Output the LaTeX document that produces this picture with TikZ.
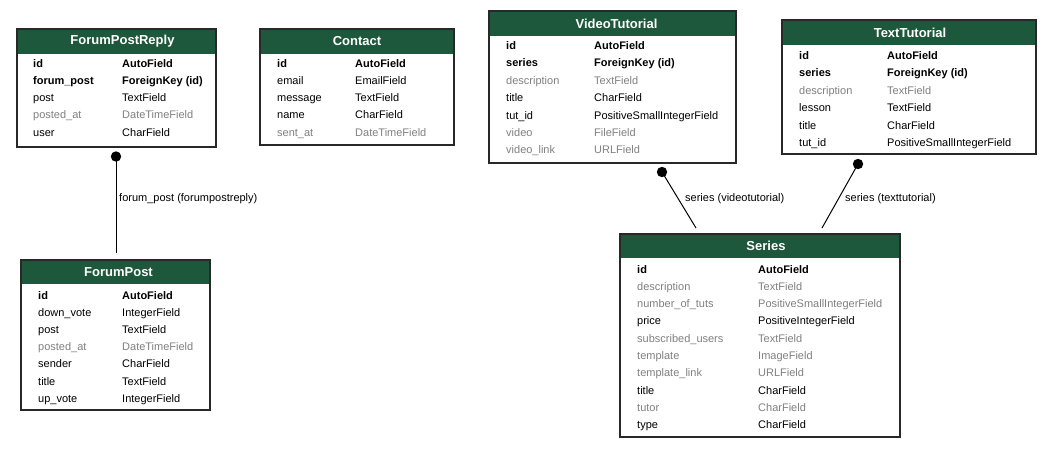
\documentclass[tikz,border=0pt]{standalone}
\usepackage{fontspec}
\setmainfont{Liberation Sans}
\usetikzlibrary{fit}
\definecolor{hdrgreen}{RGB}{30,88,60}
\definecolor{bordercol}{RGB}{40,40,40}
\definecolor{nullgray}{RGB}{128,128,128}
\tikzset{
  x=1pt, y=-1pt,
  tbl/.style={draw=bordercol, line width=1.3pt, inner sep=0pt},
  htitle/.style={text=white, font=\fontsize{13}{15}\selectfont\bfseries, inner sep=0pt},
  fld/.style={anchor=west, inner sep=0pt, font=\fontsize{11}{13}\selectfont, text height=8pt, text depth=0pt},
  key/.style={fld, font=\fontsize{11}{13}\selectfont\bfseries},
  nul/.style={fld, text=nullgray},
  conn/.style={line width=1pt, black},
  dotc/.style={fill=black},
  lbl/.style={anchor=west, inner sep=0pt, font=\fontsize{11}{13}\selectfont, text height=8pt, text depth=0pt}
}
% #1 name, #2 x1, #3 y1, #4 x2, #5 y2, #6 header bottom, #7 title, #8 title x offset
\newcommand{\erbox}[8]{%
  \fill[white] (#2,#3) rectangle (#4,#5);
  \fill[hdrgreen] (#2,#3) rectangle (#4,#6);
  \node[tbl, fit={(#2,#3) (#4,#5)}] (#1) {};
  \node[htitle] (#1-t) at ({(#2+#4)/2+#8},{(#3+#6)/2}) {#7};
}
\begin{document}
\begin{tikzpicture}
\useasboundingbox (0,0) rectangle (1046,448);
\fill[white] (0,0) rectangle (1046,448);

% ForumPostReply
\erbox{fpr}{17}{29}{216}{147}{54}{ForumPostReply}{6}
\node[key] (fpr-n1) at (33,63) {id};          \node[key] (fpr-y1) at (122,63) {AutoField};
\node[key] (fpr-n2) at (33,80.3) {forum\_post};\node[key] (fpr-y2) at (122,80.3) {ForeignKey (id)};
\node[fld] (fpr-n3) at (33,97.6) {post};       \node[fld] (fpr-y3) at (122,97.6) {TextField};
\node[nul] (fpr-n4) at (33,114.9) {posted\_at};\node[nul] (fpr-y4) at (122,114.9) {DateTimeField};
\node[fld] (fpr-n5) at (33,132.2) {user};      \node[fld] (fpr-y5) at (122,132.2) {CharField};

% Contact
\erbox{con}{260}{29}{454}{145}{54}{Contact}{0}
\node[key] (con-n1) at (277,63) {id};        \node[key] (con-y1) at (355,63) {AutoField};
\node[fld] (con-n2) at (277,80.3) {email};   \node[fld] (con-y2) at (355,80.3) {EmailField};
\node[fld] (con-n3) at (277,97.6) {message}; \node[fld] (con-y3) at (355,97.6) {TextField};
\node[fld] (con-n4) at (277,114.9) {name};   \node[fld] (con-y4) at (355,114.9) {CharField};
\node[nul] (con-n5) at (277,132.2) {sent\_at};\node[nul] (con-y5) at (355,132.2) {DateTimeField};

% VideoTutorial
\erbox{vt}{489}{11}{736}{163}{36}{VideoTutorial}{4}
\node[key] (vt-n1) at (506,45.5) {id};          \node[key] (vt-y1) at (594,45.5) {AutoField};
\node[key] (vt-n2) at (506,62.9) {series};      \node[key] (vt-y2) at (594,62.9) {ForeignKey (id)};
\node[nul] (vt-n3) at (506,80.3) {description}; \node[nul] (vt-y3) at (594,80.3) {TextField};
\node[fld] (vt-n4) at (506,97.7) {title};       \node[fld] (vt-y4) at (594,97.7) {CharField};
\node[fld] (vt-n5) at (506,115.1) {tut\_id};    \node[fld] (vt-y5) at (594,115.1) {PositiveSmallIntegerField};
\node[nul] (vt-n6) at (506,132.5) {video};      \node[nul] (vt-y6) at (594,132.5) {FileField};
\node[nul] (vt-n7) at (506,149.9) {video\_link};\node[nul] (vt-y7) at (594,149.9) {URLField};

% TextTutorial
\erbox{tt}{782}{20}{1036}{154}{45}{TextTutorial}{1}
\node[key] (tt-n1) at (799,55.5) {id};          \node[key] (tt-y1) at (887,55.5) {AutoField};
\node[key] (tt-n2) at (799,72.9) {series};      \node[key] (tt-y2) at (887,72.9) {ForeignKey (id)};
\node[nul] (tt-n3) at (799,90.3) {description}; \node[nul] (tt-y3) at (887,90.3) {TextField};
\node[fld] (tt-n4) at (799,107.7) {lesson};     \node[fld] (tt-y4) at (887,107.7) {TextField};
\node[fld] (tt-n5) at (799,125.1) {title};      \node[fld] (tt-y5) at (887,125.1) {CharField};
\node[fld] (tt-n6) at (799,142.5) {tut\_id};    \node[fld] (tt-y6) at (887,142.5) {PositiveSmallIntegerField};

% ForumPost
\erbox{fp}{21}{260}{210}{410}{284}{ForumPost}{3}
\node[key] (fp-n1) at (38,295) {id};          \node[key] (fp-y1) at (122,295) {AutoField};
\node[fld] (fp-n2) at (38,312.2) {down\_vote};\node[fld] (fp-y2) at (122,312.2) {IntegerField};
\node[fld] (fp-n3) at (38,329.4) {post};      \node[fld] (fp-y3) at (122,329.4) {TextField};
\node[nul] (fp-n4) at (38,346.6) {posted\_at};\node[nul] (fp-y4) at (122,346.6) {DateTimeField};
\node[fld] (fp-n5) at (38,363.8) {sender};    \node[fld] (fp-y5) at (122,363.8) {CharField};
\node[fld] (fp-n6) at (38,381) {title};       \node[fld] (fp-y6) at (122,381) {TextField};
\node[fld] (fp-n7) at (38,398.2) {up\_vote};  \node[fld] (fp-y7) at (122,398.2) {IntegerField};

% Series
\erbox{se}{620}{234}{900}{437}{258}{Series}{6}
\node[key] (se-n1) at (637,269) {id};                 \node[key] (se-y1) at (758,269) {AutoField};
\node[nul] (se-n2) at (637,286.3) {description};      \node[nul] (se-y2) at (758,286.3) {TextField};
\node[nul] (se-n3) at (637,303.6) {number\_of\_tuts}; \node[nul] (se-y3) at (758,303.6) {PositiveSmallIntegerField};
\node[fld] (se-n4) at (637,320.9) {price};            \node[fld] (se-y4) at (758,320.9) {PositiveIntegerField};
\node[nul] (se-n5) at (637,338.2) {subscribed\_users};\node[nul] (se-y5) at (758,338.2) {TextField};
\node[nul] (se-n6) at (637,355.5) {template};         \node[nul] (se-y6) at (758,355.5) {ImageField};
\node[nul] (se-n7) at (637,372.8) {template\_link};   \node[nul] (se-y7) at (758,372.8) {URLField};
\node[fld] (se-n8) at (637,390.1) {title};            \node[fld] (se-y8) at (758,390.1) {CharField};
\node[nul] (se-n9) at (637,407.4) {tutor};            \node[nul] (se-y9) at (758,407.4) {CharField};
\node[fld] (se-n10) at (637,424.7) {type};            \node[fld] (se-y10) at (758,424.7) {CharField};

% Connectors
\coordinate (d1) at (116,156.5);
\coordinate (e1) at (116,253);
\draw[conn] (d1) -- (e1);
\fill[dotc] (d1) circle (5.2);
\node[lbl] (l1) at (119,197) {forum\_post (forumpostreply)};

\coordinate (d2) at (662,172);
\coordinate (e2) at (696,228);
\draw[conn] (d2) -- (e2);
\fill[dotc] (d2) circle (5.2);
\node[lbl] (l2) at (685,197) {series (videotutorial)};

\coordinate (d3) at (858,164);
\coordinate (e3) at (822,228);
\draw[conn] (d3) -- (e3);
\fill[dotc] (d3) circle (5.2);
\node[lbl] (l3) at (845,197) {series (texttutorial)};
\end{tikzpicture}
\end{document}
